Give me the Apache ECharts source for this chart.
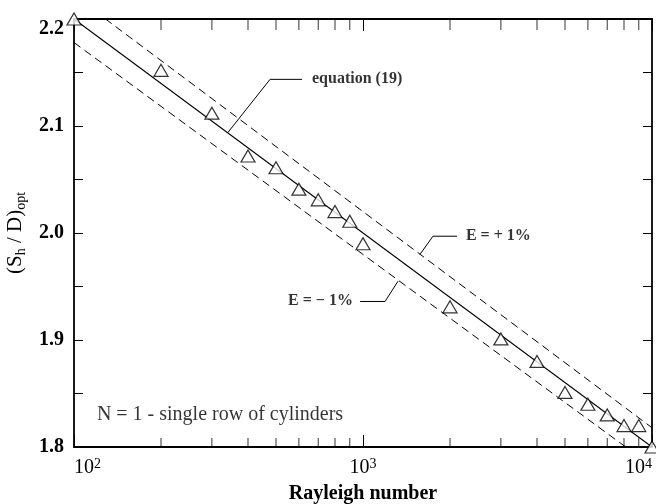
<!DOCTYPE html>
<html>
<head>
<meta charset="utf-8">
<script src="https://cdn.jsdelivr.net/npm/echarts@6/dist/echarts.min.js"></script>
<style>
  html, body { margin: 0; padding: 0; background: #fff; }
  #chart { width: 656px; height: 504px; }
</style>
</head>
<body>
<div id="chart"></div>
<script>
// measured points (Rayleigh number, optimal spacing)
var raX = [100, 200, 300, 400, 500, 600, 700, 800, 900, 1000, 2000, 3000, 4000, 5000, 6000, 7000, 8000, 9000, 10000];
var raY = [2.2, 2.152, 2.112, 2.072, 2.061, 2.041, 2.031, 2.020, 2.011, 1.990, 1.931, 1.901, 1.880, 1.851, 1.840, 1.830, 1.820, 1.820, 1.8];

// equation (19) and the +/- 1% bands
var eqX = [100, 10000];
var eqY = [2.2, 1.8];
var plusY = [2.222, 1.818];
var minusY = [2.178, 1.782];

// leader lines for the annotations
var eqLeaderX = [341, 477, 615];
var eqLeaderY = [2.094, 2.1436, 2.1436];
var plusLeaderX = [1575, 1746, 2114];
var plusLeaderY = [1.980, 1.997, 1.997];
var minusLeaderX = [1322, 1192, 977];
var minusLeaderY = [1.955, 1.936, 1.936];

// annotation texts and anchors
var noteText = ['equation (19)', 'E = + 1%', 'E = \u2212 1%', 'N = 1 - single row of cylinders'];
var noteX = [666, 2271, 923, 120];
var noteY = [2.1436, 1.9969, 1.9362, 1.8297];
var noteSide = ['right', 'right', 'left', 'right'];
var noteBold = [true, true, true, false];

// minor ticks of the log axis
var xMinorTicks = [200, 300, 400, 500, 600, 700, 800, 900, 2000, 3000, 4000, 5000, 6000, 7000, 8000, 9000];

var serif = 'Liberation Serif';

function pairs(xs, ys) {
  return xs.map(function (x, i) { return [x, ys[i]]; });
}

var chart = echarts.init(document.getElementById('chart'));

var yLabel = function (v) {
  return Math.abs(v * 10 - Math.round(v * 10)) < 1e-6 ? v.toFixed(1) : '';
};

var xAxisBase = {
  type: 'log',
  logBase: 10,
  min: 100,
  max: 10000,
  splitLine: { show: false },
  axisLine: { lineStyle: { color: '#000', width: 1.8 } },
  axisTick: { inside: true, length: 12, lineStyle: { color: '#000', width: 1 } }
};

var yAxisBase = {
  type: 'value',
  min: 1.8,
  max: 2.2,
  interval: 0.05,
  splitLine: { show: false },
  axisLine: { show: true, lineStyle: { color: '#000', width: 1.8 } },
  axisTick: { inside: true, length: 9, lineStyle: { color: '#000', width: 1 } }
};

var option = {
  backgroundColor: '#fff',
  animation: false,
  grid: { left: 74, right: 4, top: 19, bottom: 57, containLabel: false, outerBoundsMode: 'none' },
  xAxis: [
    Object.assign({}, xAxisBase, {
      position: 'bottom',
      name: 'Rayleigh number',
      nameLocation: 'middle',
      nameGap: 31,
      nameTextStyle: { fontFamily: serif, fontWeight: 'bold', fontSize: 20, color: '#000' },
      axisLabel: {
        margin: 10,
        alignMinLabel: 'left',
        alignMaxLabel: 'right',
        formatter: function (v) { return '10{sup|' + Math.round(Math.log10(v)) + '}'; },
        fontFamily: serif,
        fontSize: 20,
        color: '#000',
        lineHeight: 22,
        rich: {
          sup: { fontFamily: serif, fontSize: 14, color: '#000', lineHeight: 13, verticalAlign: 'top' }
        }
      }
    }),
    Object.assign({}, xAxisBase, {
      position: 'top',
      axisLabel: { show: false }
    })
  ],
  yAxis: [
    Object.assign({}, yAxisBase, {
      position: 'left',
      name: '(S{sub|h} / D){sub|opt}',
      nameLocation: 'middle',
      nameRotate: 90,
      nameGap: 37,
      nameTextStyle: {
        fontFamily: serif, fontSize: 21, color: '#000', lineHeight: 26,
        rich: {
          sub: { fontFamily: serif, fontSize: 14, color: '#000', lineHeight: 14, verticalAlign: 'bottom' }
        }
      },
      axisLabel: {
        margin: 10,
        formatter: yLabel,
        verticalAlignMaxLabel: 'top',
        fontFamily: serif,
        fontWeight: 'bold',
        fontSize: 20,
        color: '#000'
      }
    }),
    Object.assign({}, yAxisBase, {
      position: 'right',
      axisLabel: { show: false }
    })
  ],
  series: [
    {
      name: 'equation (19)',
      type: 'line',
      data: pairs(eqX, eqY),
      symbol: 'none',
      lineStyle: { color: '#000', width: 1.1 }
    },
    {
      name: 'E = +1%',
      type: 'line',
      data: pairs(eqX, plusY),
      symbol: 'none',
      lineStyle: { color: '#000', width: 1, type: [8, 5] }
    },
    {
      name: 'E = -1%',
      type: 'line',
      data: pairs(eqX, minusY),
      symbol: 'none',
      lineStyle: { color: '#000', width: 1, type: [8, 5] }
    },
    {
      type: 'line',
      data: pairs(eqLeaderX, eqLeaderY),
      symbol: 'none',
      lineStyle: { color: '#000', width: 1 }
    },
    {
      type: 'line',
      data: pairs(plusLeaderX, plusLeaderY),
      symbol: 'none',
      lineStyle: { color: '#000', width: 1 }
    },
    {
      type: 'line',
      data: pairs(minusLeaderX, minusLeaderY),
      symbol: 'none',
      lineStyle: { color: '#000', width: 1 }
    },
    {
      // minor ticks, bottom and top
      type: 'scatter',
      data: xMinorTicks.map(function (x) { return [x, 1.8]; }),
      symbol: 'rect',
      symbolSize: [1, 9],
      symbolOffset: [0, -4.5],
      itemStyle: { color: '#000' },
      clip: false,
      silent: true
    },
    {
      type: 'scatter',
      data: xMinorTicks.map(function (x) { return [x, 2.2]; }),
      symbol: 'rect',
      symbolSize: [1, 11],
      symbolOffset: [0, 5.5],
      itemStyle: { color: '#000' },
      clip: false,
      silent: true
    },
    {
      name: 'data',
      type: 'scatter',
      data: pairs(raX, raY),
      symbol: 'triangle',
      symbolSize: [14, 12],
      itemStyle: { color: '#fff', borderColor: '#000', borderWidth: 1.2 },
      clip: false,
      z: 5
    },
    {
      // annotation texts
      type: 'scatter',
      symbolSize: 0,
      clip: false,
      silent: true,
      data: noteText.map(function (t, i) {
        return {
          value: [noteX[i], noteY[i]],
          label: {
            show: true,
            formatter: t,
            position: noteSide[i],
            distance: 0,
            fontFamily: serif,
            fontWeight: noteBold[i] ? 'bold' : 'normal',
            fontSize: noteBold[i] ? 16 : 20,
            color: '#000'
          }
        };
      })
    }
  ]
};

chart.setOption(option);
</script>
</body>
</html>
